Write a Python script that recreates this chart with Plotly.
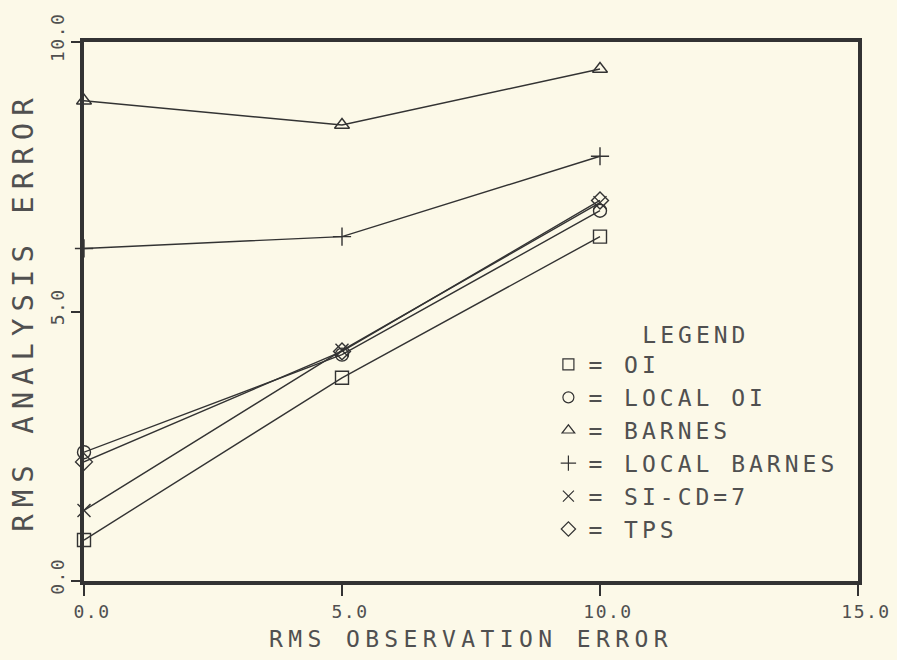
import plotly.graph_objects as go

# ---- data ----
obs_error = [0, 5, 10]
oi = [0.76, 3.77, 6.39]
local_oi = [2.39, 4.20, 6.87]
barnes = [8.91, 8.46, 9.50]
local_barnes = [6.17, 6.39, 7.88]
si_cd7 = [1.31, 4.28, 7.02]
tps = [2.21, 4.26, 7.06]

series_names = ["OI", "LOCAL OI", "BARNES", "LOCAL BARNES", "SI-CD=7", "TPS"]
series_values = [oi, local_oi, barnes, local_barnes, si_cd7, tps]
symbols = ["square-open", "circle-open", "triangle-up-open", "cross-thin-open", "x-thin-open", "diamond-open"]

x_ticks = [0, 5, 10, 15]
x_tick_labels = ["0.0", "5.0", "10.0", "15.0"]
y_ticks = [0, 5, 10]
y_tick_labels = ["0.0", "5.0", "10.0"]

BG = "#fcf9e8"
INK = "#333333"
TXT = "#505050"
FONT = "DejaVu Sans Mono"


def spaced(s, px):
    return f'<span style="letter-spacing:{px}px">{s}</span>'


fig = go.Figure()

for name, vals, sym in zip(series_names, series_values, symbols):
    fig.add_trace(go.Scatter(
        x=obs_error, y=vals, mode="lines+markers", name=name,
        line=dict(color=INK, width=1.4),
        marker=dict(symbol=sym, size=13, color=INK, line=dict(color=INK, width=1.4)),
        cliponaxis=False, showlegend=False,
    ))

# legend-only proxies (marker only, as in the plotter legend)
for name, sym in zip(series_names, symbols):
    fig.add_trace(go.Scatter(
        x=[None], y=[None], mode="markers", name=spaced("= " + name, 4),
        marker=dict(symbol=sym, size=11, color=INK, line=dict(color=INK, width=1.2)),
        showlegend=True,
    ))

fig.update_layout(
    width=897, height=660,
    margin=dict(l=84, r=39, t=41.5, b=79, autoexpand=False),
    paper_bgcolor=BG, plot_bgcolor=BG,
    font=dict(family=FONT, color=TXT),
    showlegend=True,
    legend=dict(
        x=0.6, y=0.497, xanchor="left", yanchor="top",
        bgcolor="rgba(0,0,0,0)", borderwidth=0,
        font=dict(family=FONT, size=23, color=TXT),
        title=dict(text=spaced("LEGEND", 4), side="top center",
                   font=dict(family=FONT, size=23, color=TXT)),
        itemwidth=30, tracegroupgap=0,
    ),
    xaxis=dict(
        range=[0, 15], tickmode="array", tickvals=x_ticks,
        ticktext=[spaced(t, 1.5) for t in x_tick_labels],
        ticks="outside", ticklen=11, tickwidth=1.5, tickcolor=INK,
        tickfont=dict(family=FONT, size=18, color=TXT),
        ticklabelshift=8, automargin=False,
        showline=True, linewidth=4, linecolor=INK, mirror=True,
        showgrid=False, zeroline=False,
        title=dict(text=spaced("RMS OBSERVATION ERROR", 5.4),
                   font=dict(family=FONT, size=23, color=TXT), standoff=11),
    ),
    yaxis=dict(
        range=[0, 10], tickmode="array", tickvals=y_ticks,
        ticktext=[spaced(t, 1.5) for t in y_tick_labels],
        ticks="outside", ticklen=9, tickwidth=1.5, tickcolor=INK,
        tickfont=dict(family=FONT, size=18, color=TXT),
        tickangle=-90, ticklabelshift=-2, automargin=False,
        showline=True, linewidth=4, linecolor=INK, mirror=True,
        showgrid=False, zeroline=False,
        title=dict(text=spaced("RMS ANALYSIS ERROR", 7),
                   font=dict(family=FONT, size=29, color=TXT), standoff=6),
    ),
)

fig.write_html("out.html")
